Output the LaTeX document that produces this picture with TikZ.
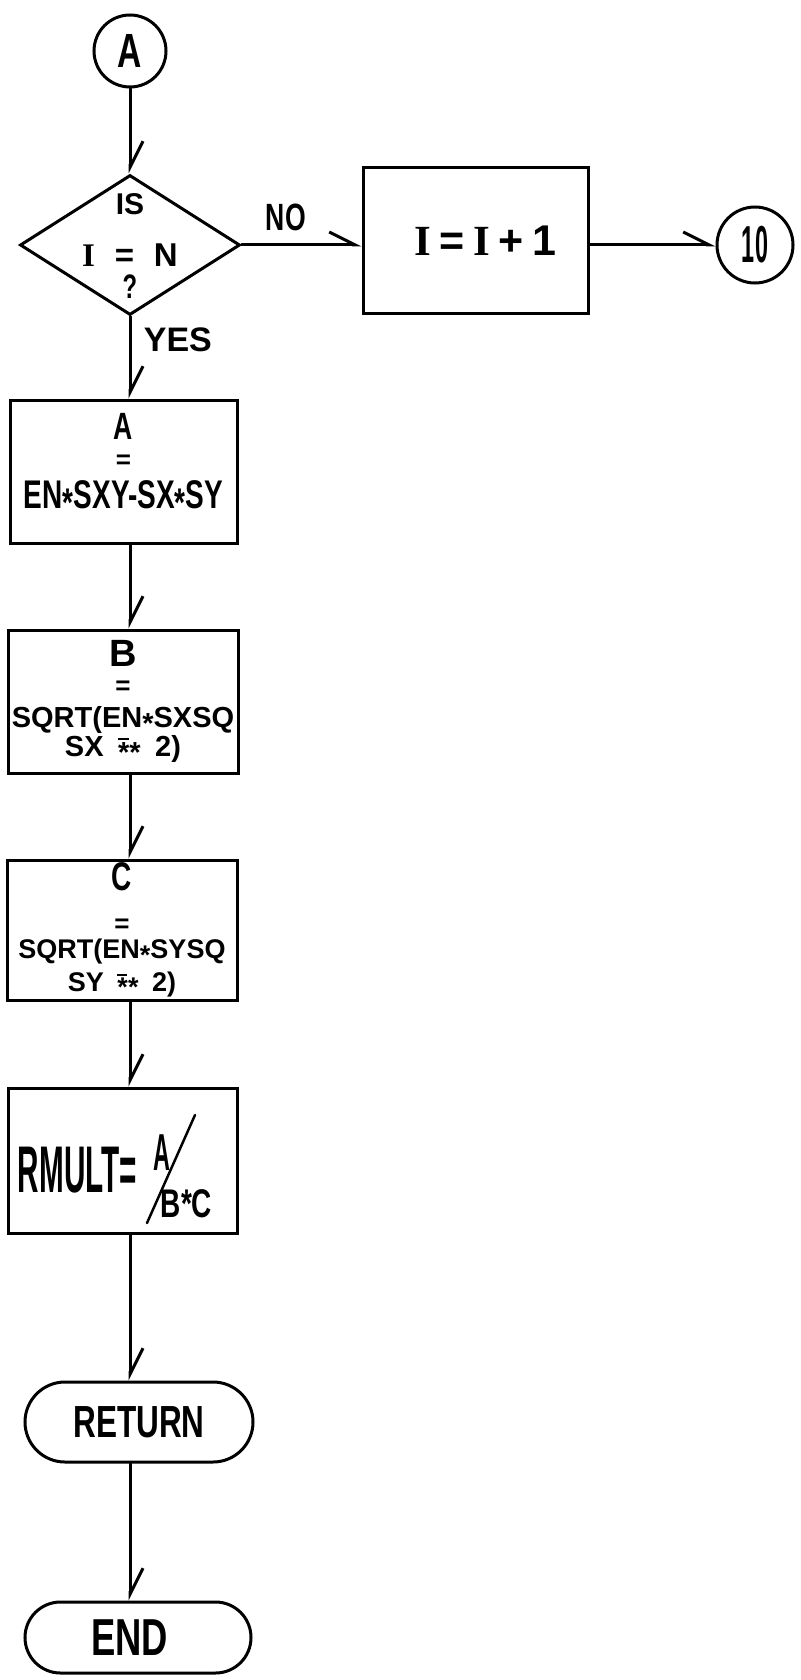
\documentclass[tikz,border=0pt]{standalone}
\usepackage{fontspec}
\usepackage{graphicx}
\usetikzlibrary{arrows.meta,shapes.geometric,shapes.misc}
\newfontfamily\plainfont{Liberation Sans}
\newfontfamily\handfont{Liberation Sans}[FakeStretch=0.7]
\newfontfamily\thinfont{Liberation Sans}[FakeStretch=0.45]
\newfontfamily\slabfont{Liberation Serif}
\newcommand{\plainsize}[1]{\plainfont\bfseries\fontsize{#1}{0}\selectfont}
\newcommand{\handsize}[1]{\handfont\bfseries\fontsize{#1}{0}\selectfont}
\newcommand{\thinsize}[1]{\thinfont\bfseries\fontsize{#1}{0}\selectfont}
\newcommand{\slabI}{{\slabfont\bfseries I}}
\newcommand{\st}{\raisebox{-.2em}{*}}
\newcommand{\barst}{\raisebox{-.2em}{\rlap{\rule[.78em]{.36em}{.08em}}*}}

\begin{document}
\begin{tikzpicture}[x=1pt, y=-1pt,
  flowline/.style={line width=3pt, line cap=round},
  flow/.style={flowline, -{Straight Barb[left, length=26pt, width=26pt]}},
  procbox/.style={draw, rectangle, line width=3pt, inner sep=0pt, align=center, font=\fontsize{10}{0}\selectfont},
  decision/.style={draw, diamond, line width=3pt, inner sep=0pt, minimum width=220pt, minimum height=140pt},
  joint/.style={draw, circle, line width=3pt, inner sep=0pt},
  terminal/.style={draw, rounded rectangle, line width=3pt, inner sep=0pt},
  textblock/.style={align=center, inner sep=0pt, font=\fontsize{10}{0}\selectfont}]

  \fill[white] (0,0) rectangle (800,1680);
  \useasboundingbox (0,0) rectangle (800,1680);

  % entry connector
  \node[joint, minimum size=72pt, font=\handsize{48}] (startA) at (130,51) {A};
  % test
  \node[decision] (isn) at (130,245) {};
  \node[textblock] (isq) at (130,246) {\plainsize{30}IS\\[28pt]%
\plainsize{33}\slabI\hspace{.6em}=\hspace{.6em}N\\[7.4pt]%
\handsize{34}?};
  % increment and exit
  \node[procbox, minimum width=225pt, minimum height=145pt] (inc) at (475.5,240.5) {\plainsize{43}\hspace*{20pt}\slabI\hspace{.2em}=\hspace{.2em}\slabI\hspace{.2em}+\hspace{.2em}1};
  \node[joint, minimum size=76pt, font=\thinsize{52}] (ten) at (755,245) {10};

  % computations
  \node[procbox, minimum width=227pt, minimum height=143pt] (calca) at (123.5,471.5) {\handsize{38}A\\[15pt]%
\plainsize{26}=\\[11pt]%
\handsize{40}EN\st SXY-SX\st SY\\[12pt]};
  \node[procbox, minimum width=230pt, minimum height=143pt] (calcb) at (123,701.5) {\plainsize{38}B\\[14pt]%
\plainsize{26}=\\[11pt]%
\plainsize{29}SQRT(EN\st SXSQ\\[1pt]%
\plainsize{29}SX\hspace{.5em}\barst\st\hspace{.5em}2)};
  \node[procbox, minimum width=230pt, minimum height=140pt] (calcc) at (122,930) {\handsize{40}C\\[27pt]%
\plainsize{26}=\\[5.5pt]%
\plainsize{27}SQRT(EN\st SYSQ\\[6.5pt]%
\plainsize{27}SY\hspace{.5em}\barst\st\hspace{.5em}2)};
  \node[procbox, minimum width=229pt, minimum height=145pt] (rmult) at (122.5,1160.5) {\thinsize{66}\rule{0pt}{64pt}RMULT=\hspace*{90pt}};
  \node[inner sep=0pt, font=\thinsize{52}] (rnum) at (161.5,1152.5) {A};
  \node[inner sep=0pt, font=\handsize{40}] (rden) at (186.5,1203.5) {B*C};
  \draw[line width=2.5pt, line cap=round] (147,1223) -- (195,1115);

  % terminals
  \node[terminal, minimum width=228pt, minimum height=80pt, font=\handsize{45}] (ret) at (139,1422) {RETURN};
  \node[terminal, minimum width=226pt, minimum height=71pt, font=\handsize{52}] (fin) at (138,1637.5) {END\hspace*{17pt}};

  % connectors
  \draw[flow] (startA) -- (isn);
  \draw[flow] (isn.east) -- (inc.west |- isn.east) node[pos=0.37, above=9pt, font=\handsize{38}] {NO};
  \draw[flow] (inc.east |- ten) -- (ten);
  \draw[flow] (isn.south) -- (calca.north -| isn) node[pos=0.29, right=9pt, font=\plainsize{34}] {YES};
  \draw[flow] (calca.south -| isn) -- (calcb.north -| isn);
  \draw[flow] (calcb.south -| isn) -- (calcc.north -| isn);
  \draw[flow] (calcc.south -| isn) -- (rmult.north -| isn);
  \draw[flow] (rmult.south -| isn) -- (ret.north -| isn);
  \draw[flow] (ret.south -| isn) -- (fin.north -| isn);
\end{tikzpicture}
\end{document}
